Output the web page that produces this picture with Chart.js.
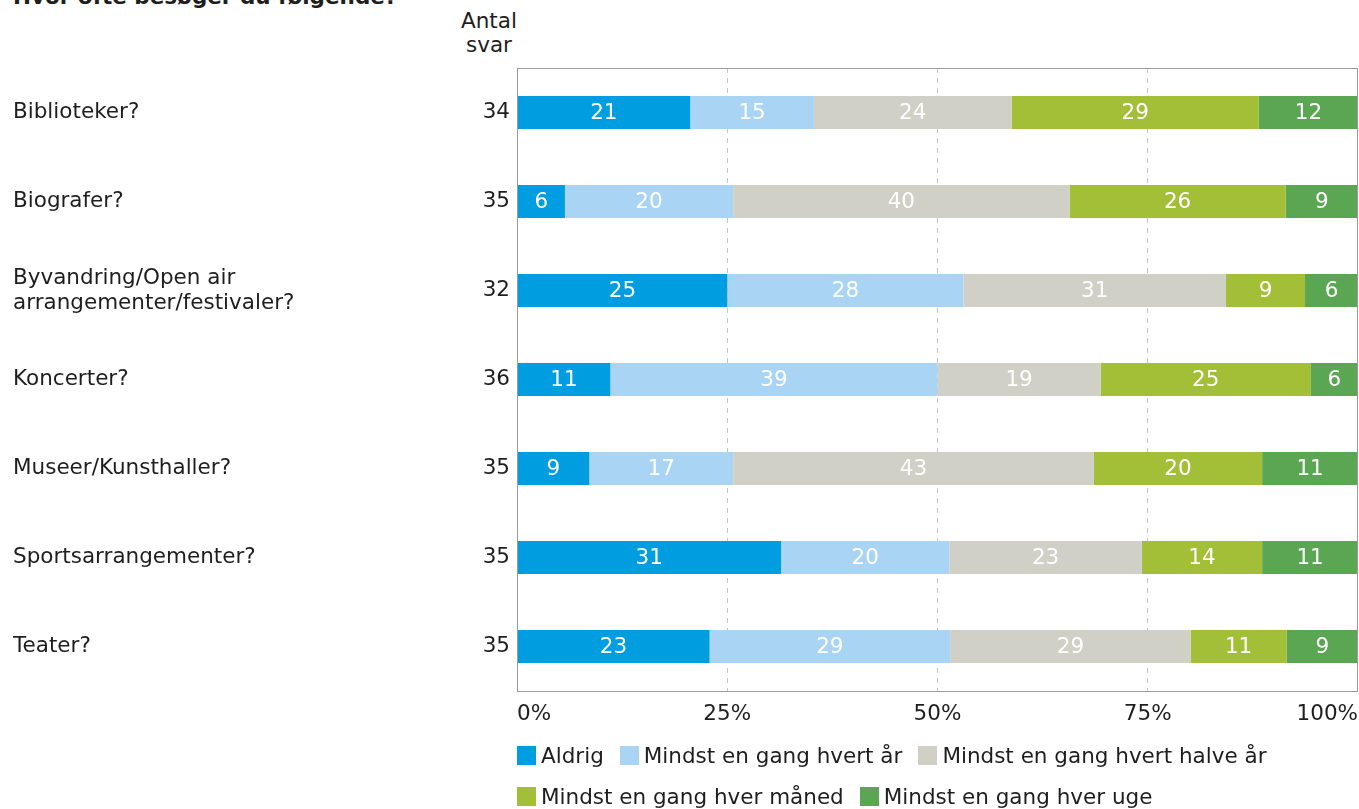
<!DOCTYPE html>
<html>
<head>
<meta charset="utf-8">
<script src="https://cdn.jsdelivr.net/npm/chart.js@4.4.1/dist/chart.umd.min.js"></script>
<style>
  html, body { margin:0; padding:0; background:#fff; width:1359px; height:809px; overflow:hidden;
    font-family:"DejaVu Sans", Verdana, sans-serif; color:#1e1e1e; }
  #title { position:absolute; left:13px; top:-16px; font-size:21.5px; font-weight:bold; line-height:25px; white-space:nowrap; }
  #antal { position:absolute; left:439px; top:9px; width:100px; text-align:center; font-size:21.5px; line-height:24px; }
  #chart { position:absolute; left:0; top:0; }
  #legend { position:absolute; left:517px; top:735px; width:842px; display:flex; flex-wrap:wrap; font-size:21.5px; line-height:25px; }
  .item { display:flex; align-items:center; height:41px; margin-right:16px; white-space:nowrap; }
  .box { width:19px; height:19px; margin-right:5px; flex:none; }
</style>
</head>
<body>
<div id="title">Hvor ofte besøger du følgende?</div>
<div id="antal">Antal<br>svar</div>
<canvas id="chart" width="1359" height="740"></canvas>
<div id="legend"></div>
<script>
// ---- data ----
const categories = [
  'Biblioteker?',
  'Biografer?',
  ['Byvandring/Open air', 'arrangementer/festivaler?'],
  'Koncerter?',
  'Museer/Kunsthaller?',
  'Sportsarrangementer?',
  'Teater?'
];
const antalSvar = [34, 35, 32, 36, 35, 35, 35];
const seriesNames = [
  'Aldrig',
  'Mindst en gang hvert år',
  'Mindst en gang hvert halve år',
  'Mindst en gang hver måned',
  'Mindst en gang hver uge'
];
const seriesColors = ['#009EE0', '#A9D4F4', '#D0D0C7', '#A3BE37', '#5BA653'];
// percentages per category (stacked to 100%)
const aldrig        = [20.6,  5.7, 25.0, 11.1,  8.6, 31.4, 22.9];
const hvertAar      = [14.7, 20.0, 28.1, 38.9, 17.1, 20.0, 28.6];
const hvertHalveAar = [23.5, 40.0, 31.2, 19.4, 42.9, 22.9, 28.6];
const hverMaaned    = [29.4, 25.7,  9.4, 25.0, 20.0, 14.3, 11.4];
const hverUge       = [11.8,  8.6,  6.3,  5.6, 11.4, 11.4,  8.5];
const xTicks = [0, 25, 50, 75, 100];

const seriesData = [aldrig, hvertAar, hvertHalveAar, hverMaaned, hverUge];
const FONT = '"DejaVu Sans", Verdana, sans-serif';
const FS = 21.5;
const TEXT = '#1e1e1e';

const barLabels = {
  id: 'barLabels',
  afterDatasetsDraw(chart) {
    const ctx = chart.ctx;
    ctx.save();
    ctx.font = FS + 'px ' + FONT;
    ctx.fillStyle = '#ffffff';
    ctx.textAlign = 'center';
    ctx.textBaseline = 'middle';
    chart.data.datasets.forEach((ds, i) => {
      const meta = chart.getDatasetMeta(i);
      meta.data.forEach((el, j) => {
        const v = ds.data[j];
        ctx.fillText(String(Math.round(v)), (el.x + el.base) / 2, el.y + 1);
      });
    });
    ctx.restore();
  }
};

const frame = {
  id: 'frame',
  afterDatasetsDraw(chart) {
    const a = chart.chartArea, ctx = chart.ctx;
    ctx.save();
    ctx.strokeStyle = '#9a9a9a';
    ctx.lineWidth = 1;
    ctx.strokeRect(Math.round(a.left) + 0.5, Math.round(a.top) + 0.5,
                   Math.round(a.right - a.left) - 1, Math.round(a.bottom - a.top));
    ctx.restore();
  }
};

new Chart(document.getElementById('chart'), {
  type: 'bar',
  data: {
    labels: categories,
    datasets: seriesNames.map((name, i) => ({
      label: name,
      data: seriesData[i],
      backgroundColor: seriesColors[i],
      borderWidth: 0,
      barPercentage: 0.37,
      categoryPercentage: 1.0
    }))
  },
  options: {
    indexAxis: 'y',
    responsive: false,
    animation: false,
    devicePixelRatio: 1,
    layout: { padding: { top: 68, left: 13, right: 1, bottom: 0 } },
    plugins: { legend: { display: false }, tooltip: { enabled: false } },
    scales: {
      x: {
        type: 'linear', stacked: true, min: 0, max: 100, position: 'bottom',
        afterBuildTicks(s) { s.ticks = xTicks.map(v => ({ value: v })); },
        ticks: { callback: v => v + '%', align: 'inner', padding: 11, color: TEXT,
                 font: { family: FONT, size: FS } },
        grid: { drawTicks: false, lineWidth: 1,
                color: c => (c.tick && (c.tick.value === 0 || c.tick.value === 100)) ? 'rgba(0,0,0,0)' : '#c4c4c4' },
        border: { display: false, dash: [5, 5] },
        afterFit(s) { s.height = 49; s.paddingLeft = 0; s.paddingRight = 0; }
      },
      y: {
        type: 'category', stacked: true, position: 'left', weight: 1, offset: true,
        ticks: { crossAlign: 'far', padding: 0, color: TEXT, autoSkip: false,
                 font: { family: FONT, size: FS, lineHeight: 25 / FS } },
        grid: { display: false, drawTicks: false },
        border: { display: false },
        afterFit(s) { s.width = 400; }
      },
      yN: {
        type: 'category', labels: antalSvar.map(String), position: 'left', weight: 0, offset: true,
        ticks: { crossAlign: 'near', padding: 7, color: TEXT, autoSkip: false,
                 font: { family: FONT, size: FS } },
        grid: { display: false, drawTicks: false },
        border: { display: false },
        afterFit(s) { s.width = 104; }
      }
    }
  },
  plugins: [barLabels, frame]
});

// HTML legend
const legend = document.getElementById('legend');
seriesNames.forEach((name, i) => {
  const it = document.createElement('div');
  it.className = 'item';
  const b = document.createElement('span');
  b.className = 'box';
  b.style.background = seriesColors[i];
  const t = document.createElement('span');
  t.textContent = name;
  it.appendChild(b); it.appendChild(t);
  legend.appendChild(it);
});
</script>
</body>
</html>
